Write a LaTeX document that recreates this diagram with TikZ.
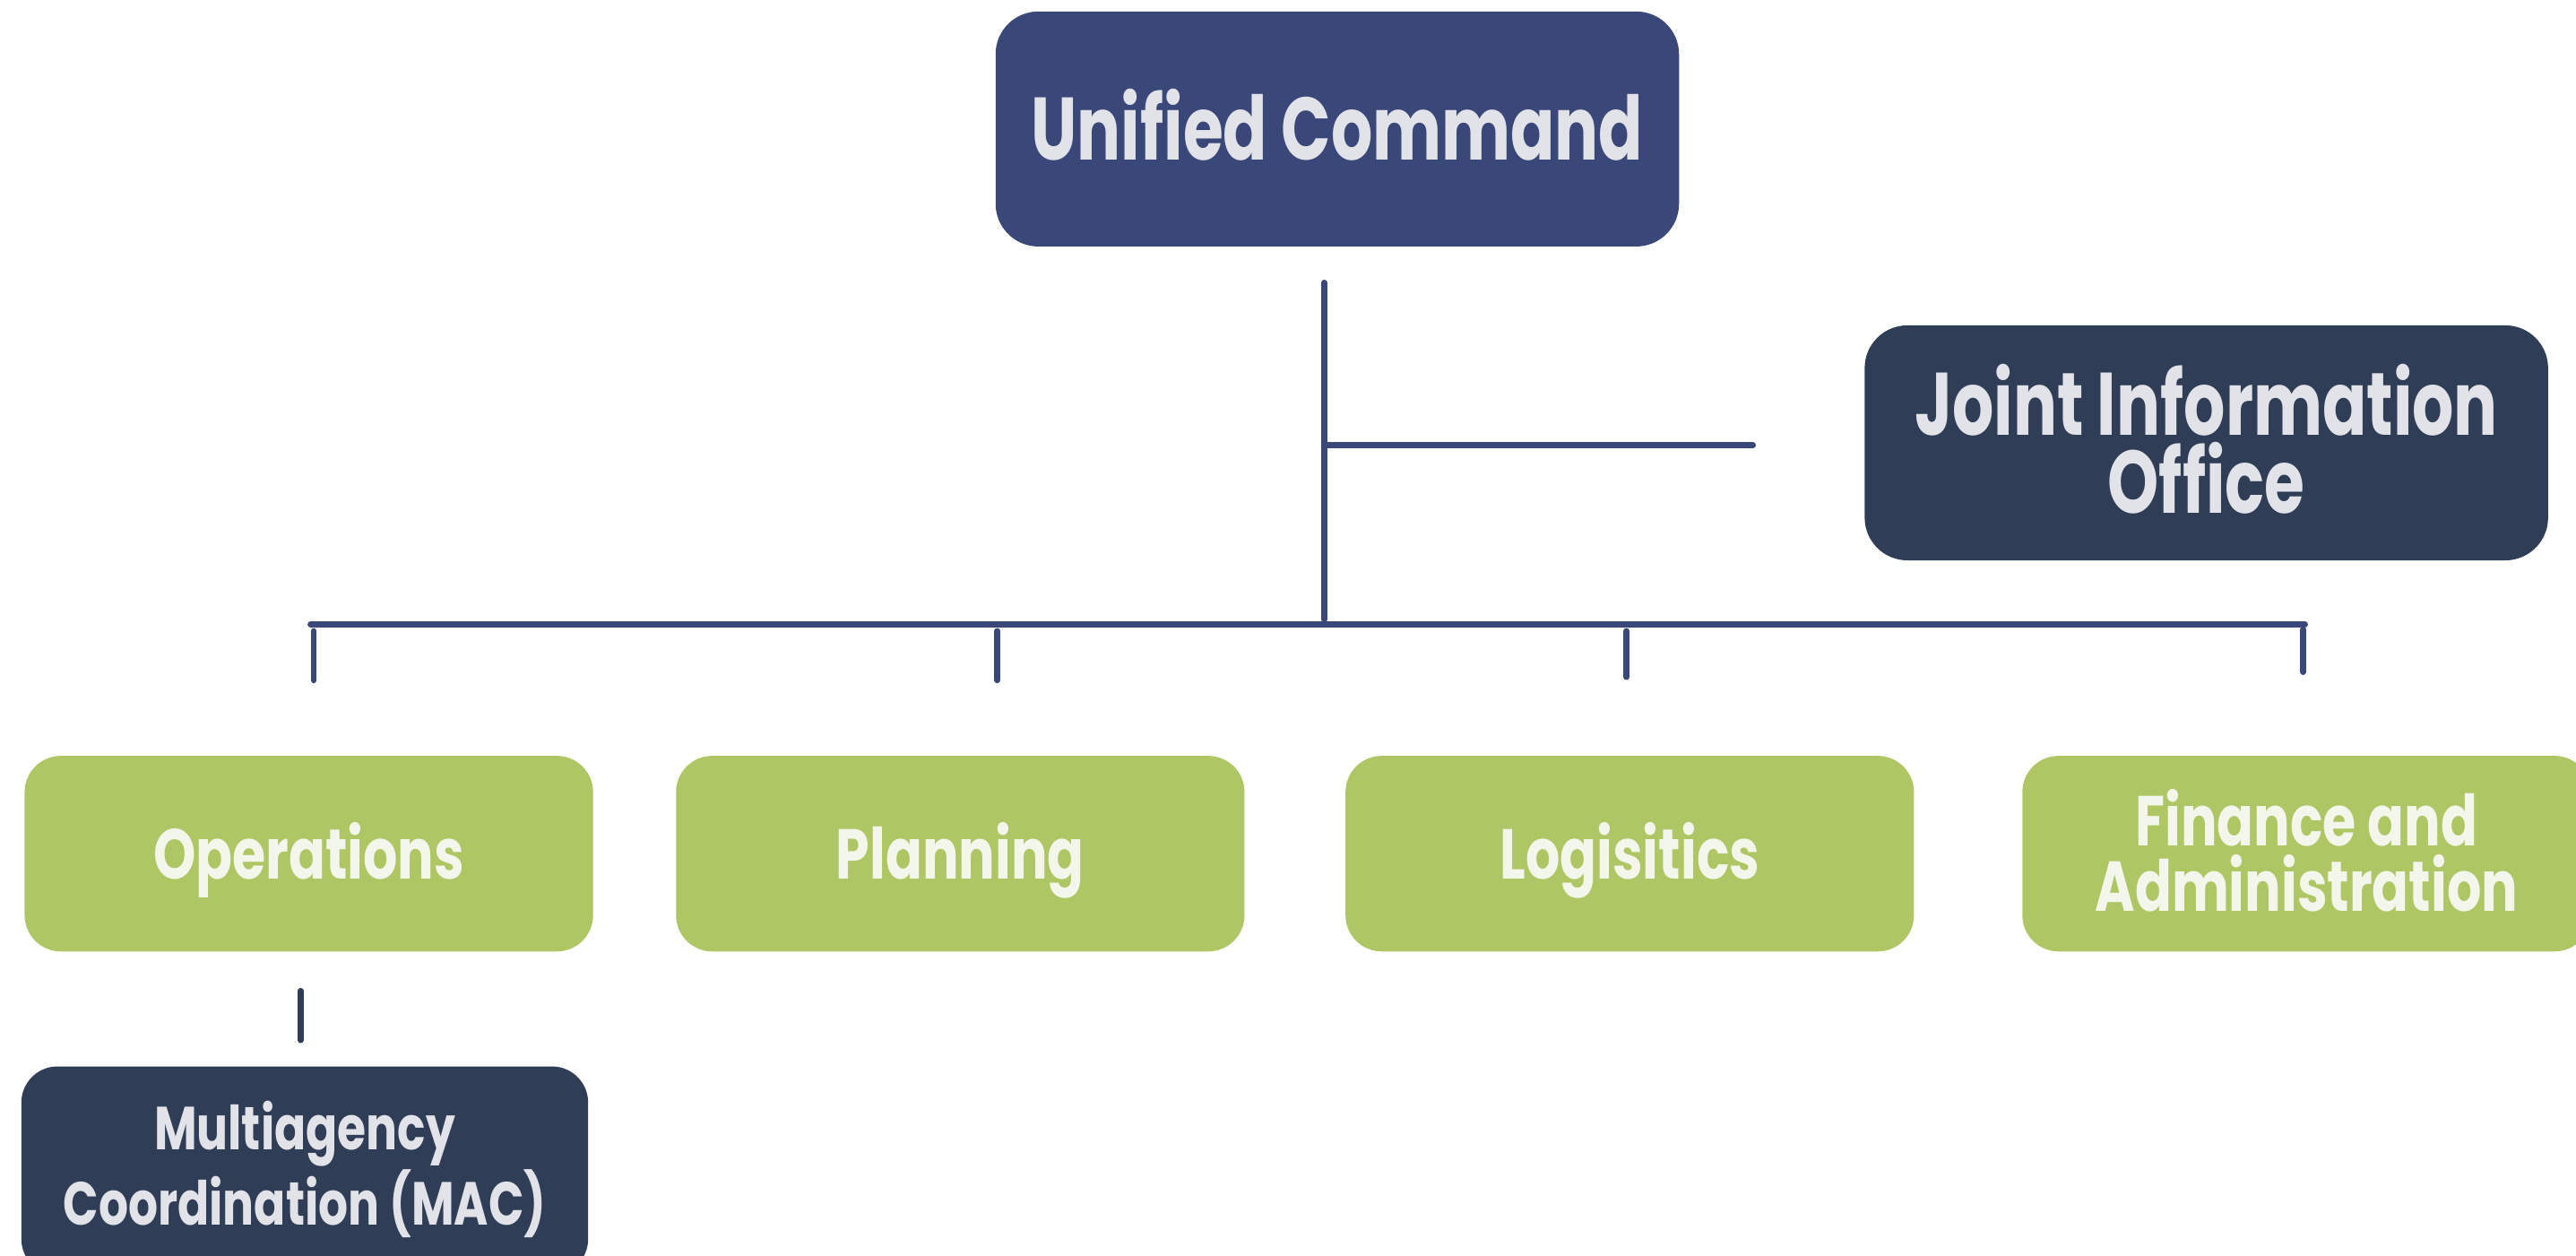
\documentclass[tikz,border=0pt]{standalone}
\usepackage{fontspec}
\setmainfont{Poppins}
% heavy geometric labels, narrowed to the label widths of the chart
\newfontfamily\headfont{Poppins}[FakeStretch=0.735]
\newfontfamily\unitfont{Poppins}[FakeStretch=0.765]
\definecolor{ucblue}{HTML}{3A4779}
\definecolor{navy}{HTML}{2F3E56}
\definecolor{leaf}{HTML}{AEC663}
\definecolor{lighttext}{HTML}{E1E3E8}
\definecolor{creamtext}{HTML}{F3F6EA}
\tikzset{
  box/.style={rounded corners=13pt, inner sep=0pt, align=center, text depth=0pt},
  % text height = cap height (+ one baselineskip per extra line), so the caps sit centred
  headlbl/.style={font=\headfont\bfseries\fontsize{27}{23.8}\selectfont, text height=19pt},
  headlbltwo/.style={headlbl, text height=42.8pt},
  unitlbl/.style={font=\unitfont\bfseries\fontsize{21.5}{19.9}\selectfont, text height=15.2pt},
  unitlbltwo/.style={unitlbl, text height=35.1pt},
  sublbltwo/.style={font=\unitfont\bfseries\fontsize{18.5}{19.9}\selectfont, text height=32.9pt},
  topbox/.style={box, headlbl, fill=ucblue, text=lighttext, minimum width=208pt, minimum height=71.5pt},
  infobox/.style={box, headlbltwo, fill=navy, text=lighttext, minimum width=208pt, minimum height=71.5pt},
  unitbox/.style={box, unitlbl, rounded corners=11pt, fill=leaf, text=creamtext, minimum width=173pt, minimum height=59.5pt},
  subbox/.style={box, sublbltwo, rounded corners=11pt, fill=navy, text=lighttext, minimum width=172.5pt, minimum height=63.5pt},
  conn/.style={draw=ucblue, line width=1.8pt, line cap=round},
  subconn/.style={draw=navy, line width=1.8pt, line cap=round}
}
\begin{document}
\begin{tikzpicture}[x=0.5pt,y=-0.5pt]
\useasboundingbox (0,0) rectangle (1568,764);
\clip (0,0) rectangle (1568,764);

% command level
\node[topbox] (uc) at (814,78.5) {Unified Command};
\node[infobox] (jio) at (1343,269.5) {Joint Information\\Office};

% section chiefs
\node[unitbox] (ops)  at (188,519.5)   {Operations};
\node[unitbox] (plan) at (584.5,519.5) {Planning};
\node[unitbox] (log)  at (992,519.5)   {Logisitics};
\node[unitbox, unitlbltwo] (fin) at (1404,519.5) {Finance and\\Administration};

% coordination group
\node[subbox] (mac) at (185.5,712.5) {Multiagency\\Coordination (MAC)};

% connector joints
\coordinate (trunktop) at (806,172);
\coordinate (trunkbot) at (806,377);
\coordinate (jiojoint) at (806,271);
\coordinate (jioend)   at (1067,271);
\coordinate (busL) at (189,380);
\coordinate (busR) at (1403,380);
\coordinate (opsA) at (191,384);  \coordinate (opsB) at (191,414);
\coordinate (planA) at (607,384); \coordinate (planB) at (607,414);
\coordinate (logA) at (990,384);  \coordinate (logB) at (990,412);
\coordinate (finA) at (1402,383); \coordinate (finB) at (1402,409);
\coordinate (macA) at (183,603);  \coordinate (macB) at (183,633);

\draw[conn] (trunktop) -- (trunkbot);
\draw[conn] (jiojoint) -- (jioend);
\draw[conn] (busL) -- (busR);
\draw[conn] (opsA) -- (opsB);
\draw[conn] (planA) -- (planB);
\draw[conn] (logA) -- (logB);
\draw[conn] (finA) -- (finB);
\draw[subconn] (macA) -- (macB);
\end{tikzpicture}
\end{document}
